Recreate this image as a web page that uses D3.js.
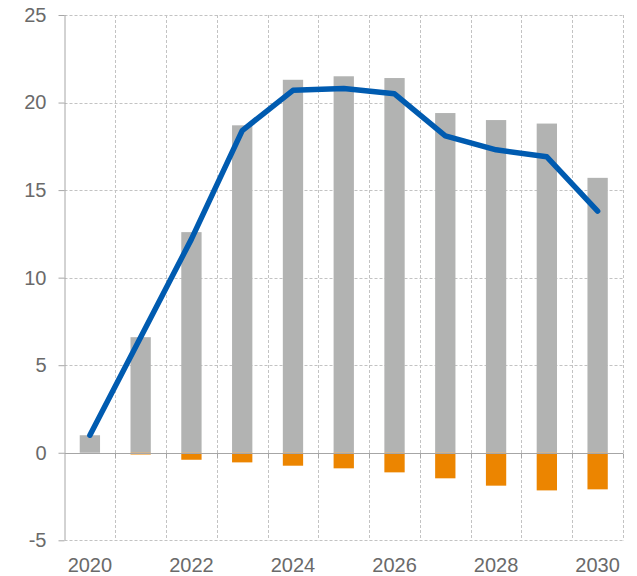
<!DOCTYPE html>
<html>
<head>
<meta charset="utf-8">
<script src="https://cdn.jsdelivr.net/npm/d3@7"></script>
<style>
	body { margin: 0; background: #fff; }
	svg text { font-family: "Liberation Sans", Arial, sans-serif; fill: #6a6a6a; }
</style>
</head>
<body>
<svg id="chart"></svg>
<script>
const years = [2020, 2021, 2022, 2023, 2024, 2025, 2026, 2027, 2028, 2029, 2030];
const positive = [1.0, 6.6, 12.6, 18.7, 21.3, 21.5, 21.4, 19.4, 19.0, 18.8, 15.7];
const negative = [0, -0.1, -0.4, -0.55, -0.74, -0.89, -1.12, -1.46, -1.88, -2.15, -2.09];
const total = [1.0, 6.6, 12.2, 18.4, 20.7, 20.8, 20.5, 18.1, 17.3, 16.9, 13.8];
const yTicks = [-5, 0, 5, 10, 15, 20, 25];
const xLabels = [2020, 2022, 2024, 2026, 2028, 2030];

const width = 637, height = 576;
const plotLeft = 64.5, plotRight = 623, plotTop = 15, plotBottom = 540.3;

const svg = d3.select('#chart')
	.attr('width', width)
	.attr('height', height);

const xScale = d3.scaleBand()
	.domain(years)
	.range([plotLeft, plotRight])
	.paddingInner(0.6)
	.paddingOuter(0.3);

const step = xScale.step();
const edge = d => xScale(d) - xScale.paddingOuter() * step; // band boundary

const yScale = d3.scaleLinear()
	.domain([-5, 25])
	.range([plotBottom, plotTop]);

// dashed grid
const grid = svg.append('g').attr('class', 'grid')
	.attr('stroke', '#c3c3c3')
	.attr('stroke-width', 1)
	.attr('stroke-dasharray', '3,2');

grid.selectAll('.hgrid')
	.data(yTicks.filter(d => d !== 0))
	.enter()
	.append('line')
	.attr('x1', plotLeft).attr('x2', plotRight)
	.attr('y1', d => Math.round(yScale(d)) + 0.5)
	.attr('y2', d => Math.round(yScale(d)) + 0.5);

grid.selectAll('.vgrid')
	.data(years.slice(1).map(edge).concat([plotRight]))
	.enter()
	.append('line')
	.attr('x1', d => Math.round(d) + 0.5).attr('x2', d => Math.round(d) + 0.5)
	.attr('y1', plotTop).attr('y2', plotBottom);

// bars
svg.selectAll('.bar-pos')
	.data(years)
	.enter()
	.append('rect')
	.attr('x', d => xScale(d))
	.attr('width', xScale.bandwidth())
	.attr('y', (d, i) => yScale(positive[i]))
	.attr('height', (d, i) => yScale(0) - yScale(positive[i]))
	.style('fill', '#b2b3b2');

svg.selectAll('.bar-neg')
	.data(years)
	.enter()
	.append('rect')
	.attr('x', d => xScale(d))
	.attr('width', xScale.bandwidth())
	.attr('y', yScale(0))
	.attr('height', (d, i) => yScale(negative[i]) - yScale(0))
	.style('fill', '#ec8500');

// y axis
const yAxis = svg.append('g')
	.attr('transform', `translate(${plotLeft}, 0)`)
	.call(d3.axisLeft(yScale)
		.tickValues(yTicks)
		.tickSize(6)
		.tickPadding(12)
		.tickFormat(d => String(d))
	);
yAxis.select('.domain').attr('stroke', '#a6a6a6').attr('d', `M0.5,${plotTop}V${plotBottom}`);
yAxis.selectAll('.tick line').attr('stroke', '#a6a6a6');
yAxis.selectAll('.tick text')
	.style('font-size', '20px')
	.attr('fill', '#6a6a6a');

// zero line with category ticks
const zeroY = Math.round(yScale(0)) + 0.5;
svg.append('line')
	.attr('x1', plotLeft).attr('x2', plotRight)
	.attr('y1', zeroY).attr('y2', zeroY)
	.attr('stroke', '#a6a6a6')
	.attr('stroke-width', 1);

svg.selectAll('.xtick')
	.data(years.slice(1).map(edge).concat([plotRight]))
	.enter()
	.append('line')
	.attr('x1', d => Math.round(d) + 0.5).attr('x2', d => Math.round(d) + 0.5)
	.attr('y1', zeroY).attr('y2', zeroY + 5)
	.attr('stroke', '#a6a6a6');

// x labels
svg.selectAll('.xlabel')
	.data(xLabels)
	.enter()
	.append('text')
	.attr('x', d => xScale(d) + xScale.bandwidth() / 2)
	.attr('y', 572)
	.attr('text-anchor', 'middle')
	.style('font-size', '20px')
	.text(d => d);

// line
const line = d3.line()
	.x(d => xScale(d) + xScale.bandwidth() / 2)
	.y((d, i) => yScale(total[i]));

svg.append('path')
	.datum(years)
	.attr('d', line)
	.attr('fill', 'none')
	.attr('stroke', '#005bb0')
	.attr('stroke-width', 5.5)
	.attr('stroke-linecap', 'round')
	.attr('stroke-linejoin', 'round');
</script>
</body>
</html>
